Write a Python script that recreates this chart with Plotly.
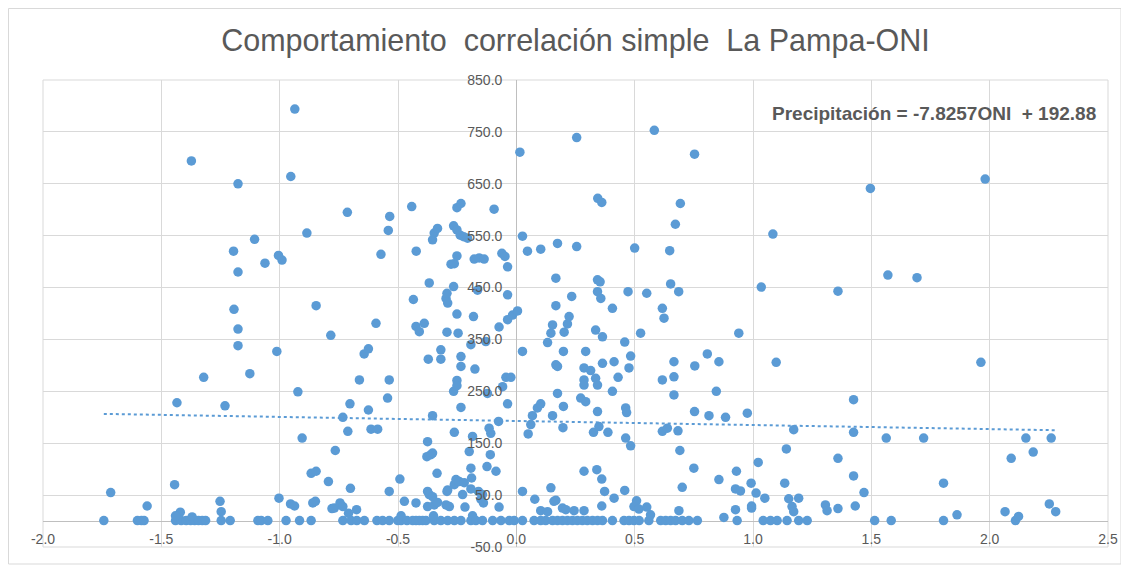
import plotly.graph_objects as go

# ---- data (ONI value, precipitation) ----
oni = [
    -1.743, -1.714, -1.601, -1.584, -1.573, -1.560, -1.444, -1.440, -1.434, -1.420,
    -1.416, -1.440, -1.395, -1.376, -1.370, -1.373, -1.359, -1.343, -1.327, -1.321,
    -1.313, -1.252, -1.247, -1.247, -1.231, -1.209, -1.195, -1.193, -1.176, -1.176,
    -1.176, -1.176, -1.126, -1.106, -1.092, -1.078, -1.062, -1.050, -1.012, -1.005,
    -1.003, -0.990, -0.973, -0.954, -0.953, -0.937, -0.936, -0.923, -0.916, -0.905,
    -0.885, -0.867, -0.867, -0.860, -0.849, -0.846, -0.846, -0.794, -0.784, -0.779,
    -0.769, -0.765, -0.745, -0.733, -0.733, -0.733, -0.714, -0.712, -0.709, -0.703,
    -0.701, -0.698, -0.675, -0.674, -0.663, -0.643, -0.642, -0.625, -0.625, -0.614,
    -0.593, -0.586, -0.589,
    -0.572, -0.565, -0.541, -0.535, -0.537, -0.544, -0.537, -0.537, -0.501, -0.492,
    -0.487, -0.487, -0.473, -0.462, -0.442, -0.438, -0.435, -0.424, -0.424, -0.423,
    -0.424, -0.410, -0.410, -0.396, -0.389, -0.382, -0.378, -0.375, -0.375, -0.375,
    -0.372, -0.368, -0.368, -0.361, -0.354, -0.354, -0.354, -0.347, -0.333, -0.354,
    -0.347, -0.347, -0.350, -0.335, -0.333, -0.319, -0.319, -0.319, -0.297, -0.297,
    -0.293, -0.290, -0.293, -0.290, -0.290, -0.283, -0.293, -0.276, -0.265, -0.265,
    -0.265, -0.262, -0.262, -0.262, -0.262, -0.255, -0.251, -0.251, -0.251, -0.251,
    -0.251, -0.251, -0.246, -0.241, -0.237, -0.234, -0.234, -0.234, -0.234, -0.234,
    -0.227, -0.223, -0.220, -0.217, -0.206, -0.199, -0.192, -0.192, -0.192, -0.192,
    -0.189, -0.185, -0.185, -0.181, -0.178, -0.175, -0.171, -0.164, -0.160, -0.157,
    -0.150, -0.143, -0.143, -0.139, -0.136, -0.129, -0.124, -0.122, -0.115, -0.110,
    -0.108, -0.100, -0.094, -0.086, -0.075, -0.073, -0.073, -0.065, -0.061, -0.058,
    -0.048, -0.044, -0.037, -0.037, -0.037, -0.037, -0.030, -0.023, -0.016, -0.009,
    0.005,
    0.015, 0.026, 0.026, 0.026, 0.026, 0.047, 0.050, 0.061, 0.068, 0.089,
    0.103, 0.075, 0.078, 0.103, 0.103, 0.103, 0.124, 0.132, 0.132, 0.146,
    0.146, 0.153, 0.153, 0.153, 0.159, 0.167, 0.167, 0.167, 0.167, 0.174,
    0.174, 0.174, 0.174, 0.195, 0.195, 0.197, 0.199, 0.199, 0.202, 0.209,
    0.216, 0.216, 0.223, 0.234, 0.237, 0.244, 0.255, 0.255, 0.258, 0.272,
    0.279, 0.286, 0.286, 0.286, 0.286, 0.286, 0.293, 0.293, 0.300, 0.314,
    0.322, 0.326, 0.335, 0.335, 0.340, 0.343, 0.343, 0.343, 0.343, 0.343,
    0.344, 0.349, 0.354, 0.357, 0.361, 0.361, 0.361, 0.364, 0.364, 0.364,
    0.373, 0.387, 0.406, 0.406, 0.406, 0.413, 0.413, 0.430, 0.455, 0.458,
    0.458, 0.462, 0.462, 0.466, 0.472, 0.476, 0.476, 0.483, 0.483, 0.497,
    0.497,
    0.500, 0.508, 0.518, 0.519, 0.525, 0.551, 0.551, 0.560, 0.567, 0.583,
    0.610, 0.617, 0.617, 0.617, 0.624, 0.631, 0.638, 0.648, 0.652, 0.652,
    0.666, 0.666, 0.666, 0.672, 0.673, 0.683, 0.686, 0.687, 0.691, 0.693,
    0.701, 0.701, 0.729, 0.750, 0.753, 0.753, 0.754, 0.765, 0.807, 0.814,
    0.845, 0.856, 0.856, 0.877, 0.884, 0.926, 0.926, 0.930, 0.933, 0.947,
    0.940, 0.976, 0.992, 0.994, 0.994, 1.013, 1.022, 1.035, 1.043, 1.050,
    1.074, 1.084, 1.098, 1.102, 1.134, 1.141, 1.144, 1.151, 1.165, 1.172,
    1.172, 1.193, 1.193, 1.229, 1.306, 1.313, 1.359, 1.359, 1.359, 1.425,
    1.425, 1.425, 1.432, 1.469, 1.496, 1.514, 1.563, 1.570, 1.584, 1.693,
    1.721, 1.805, 1.805, 1.862, 1.963, 1.981, 2.065, 2.091, 2.109, 2.122,
    2.153, 2.184, 2.252, 2.260, 2.279,
]

precipitacion = [
    1, 55, 1, 1, 1, 29, 70, 1, 228, 17,
    1, 10, 1, 1, 8, 694, 1, 1, 1, 277,
    1, 38, 18, 1, 222, 1, 520, 408, 650, 480,
    370, 338, 284, 543, 1, 1, 497, 1, 327, 512,
    44, 503, 1, 33, 664, 29, 794, 249, 1, 160,
    555, 92, 1, 35, 38, 96, 415, 76, 358, 24,
    25, 136, 35, 28, 200, 1, 595, 173, 15, 226,
    63, 1, 22, 1, 272, 322, 1, 332, 214, 177,
    381, 177, 1,
    514, 1, 560, 587, 272, 237, 57, 1, 1, 81,
    1, 10, 38, 1, 606, 1, 427, 35, 1, 520,
    375, 365, 1, 1, 381, 1, 124, 153, 57, 28,
    312, 459, 51, 128, 131, 47, 542, 555, 564, 203,
    1, 31, 10, 92, 36, 330, 312, 1, 31, 429,
    439, 420, 364, 60, 1, 28, 57, 495, 569, 452,
    250, 496, 171, 70, 1, 80, 604, 561, 511, 399,
    271, 261, 362, 76, 551, 612, 317, 298, 219, 1,
    51, 548, 74, 27, 545, 134, 102, 340, 62, 1,
    83, 163, 10, 394, 505, 293, 1, 445, 57, 507,
    42, 51, 1, 35, 505, 346, 105, 246, 179, 128,
    169, 1, 601, 96, 192, 374, 27, 1, 516, 259,
    510, 277, 490, 436, 388, 226, 1, 277, 397, 1,
    405,
    711, 549, 327, 57, 1, 520, 168, 186, 203, 218,
    226, 1, 42, 524, 20, 1, 1, 18, 344, 362,
    64, 378, 203, 1, 38, 40, 468, 415, 301, 298,
    535, 246, 1, 25, 1, 180, 327, 221, 364, 22,
    380, 1, 394, 433, 1, 20, 739, 529, 1, 237,
    1, 295, 272, 262, 96, 20, 327, 230, 1, 290,
    1, 171, 368, 275, 99, 465, 442, 262, 211, 1,
    622, 182, 461, 429, 614, 81, 29, 355, 304, 1,
    57, 171, 410, 250, 1, 307, 44, 277, 1, 345,
    59, 218, 160, 209, 442, 295, 1, 318, 145, 28,
    1,
    526, 39, 23, 1, 362, 439, 27, 1, 12, 753,
    1, 410, 272, 173, 391, 1, 179, 521, 457, 1,
    307, 278, 243, 572, 1, 174, 442, 20, 136, 612,
    65, 1, 1, 102, 707, 211, 299, 1, 322, 203,
    250, 307, 80, 7, 200, 62, 22, 96, 1, 58,
    362, 208, 73, 29, 25, 54, 113, 451, 1, 44,
    1, 553, 306, 1, 73, 139, 1, 43, 28, 176,
    18, 44, 1, 1, 31, 20, 443, 121, 24, 234,
    171, 87, 29, 55, 641, 1, 160, 474, 1, 469,
    160, 73, 1, 12, 306, 659, 18, 121, 1, 9,
    160, 133, 33, 160, 18,
]

if len(oni) != len(precipitacion):
    raise SystemExit(f"length mismatch: {len(oni)} vs {len(precipitacion)}")

# trendline coefficients shown on the chart
trend_slope = -7.8257
trend_intercept = 192.88

x_ticks = [-2.0, -1.5, -1.0, -0.5, 0.0, 0.5, 1.0, 1.5, 2.0, 2.5]
y_ticks = [-50, 50, 150, 250, 350, 450, 550, 650, 750, 850]

title_text = "Comportamiento\u00a0 correlación simple\u00a0 La Pampa-ONI"
equation_text = "<b>Precipitación = -7.8257ONI\u00a0 + 192.88</b>"

BLUE = "#5B9BD5"
GRID = "#D9D9D9"
TEXT = "#595959"
FONT = "Liberation Sans, Arial, sans-serif"

x_lo, x_hi = min(oni), max(oni)
trend_x = [x_lo, x_hi]
trend_y = [trend_slope * v + trend_intercept for v in trend_x]

fig = go.Figure()
fig.add_trace(go.Scatter(
    x=oni, y=precipitacion, mode="markers",
    marker=dict(color=BLUE, size=9.5, line=dict(width=0)),
    showlegend=False,
))
fig.add_trace(go.Scatter(
    x=trend_x, y=trend_y, mode="lines",
    line=dict(color=BLUE, width=2, dash="dot"),
    showlegend=False,
))

x_range = [-2.0, 2.5]
y_range = [-50, 850]

# page body adds an 8px offset, so the figure is laid out 8px smaller
W, H = 1121, 559
L, R, T, B = 35, 21, 72, 20
pw, ph = W - L - R, H - T - B

fig.update_layout(
    width=W, height=H,
    margin=dict(l=L, r=R, t=T, b=B),
    paper_bgcolor="white", plot_bgcolor="white",
    font=dict(family=FONT, color=TEXT),
    title=dict(text=title_text, x=0.5, xref="paper", xanchor="center",
               y=1 - 32 / H, yref="container", yanchor="middle",
               font=dict(size=30.5, color=TEXT, family=FONT)),
    xaxis=dict(
        range=x_range, tickvals=x_ticks, ticktext=[f"{v:.1f}" for v in x_ticks],
        showgrid=True, gridcolor=GRID, gridwidth=1,
        zeroline=True, zerolinecolor="#BFBFBF", zerolinewidth=1,
        showline=False, ticks="", anchor="free",
        position=(0 - y_range[0]) / (y_range[1] - y_range[0]),
        tickfont=dict(size=14, color=TEXT), ticklabelstandoff=8,
    ),
    yaxis=dict(
        range=y_range, tickvals=y_ticks, ticktext=[f"{v:.1f}" for v in y_ticks],
        showgrid=True, gridcolor=GRID, gridwidth=1,
        zeroline=True, zerolinecolor="#BFBFBF", zerolinewidth=1,
        showline=False, ticks="", anchor="free",
        position=(0 - x_range[0]) / (x_range[1] - x_range[0]),
        tickfont=dict(size=14, color=TEXT), ticklabelstandoff=14,
    ),
    annotations=[dict(
        text=equation_text, xref="paper", yref="paper",
        x=(1090 - L) / pw, y=0.929, xanchor="right", yanchor="middle",
        showarrow=False, font=dict(size=19, color=TEXT, family=FONT),
    )],
    shapes=[
        dict(type="rect", xref="paper", yref="paper", x0=0, x1=1, y0=0, y1=1,
             line=dict(color=GRID, width=1), layer="below"),
        dict(type="rect", xref="paper", yref="paper",
             x0=(0.5 - L) / pw, x1=(1113 - L) / pw,
             y0=(H - B - 556) / ph, y1=(H - B - 0.5) / ph,
             line=dict(color=GRID, width=1), layer="below"),
    ],
)

fig.write_html("out.html")
